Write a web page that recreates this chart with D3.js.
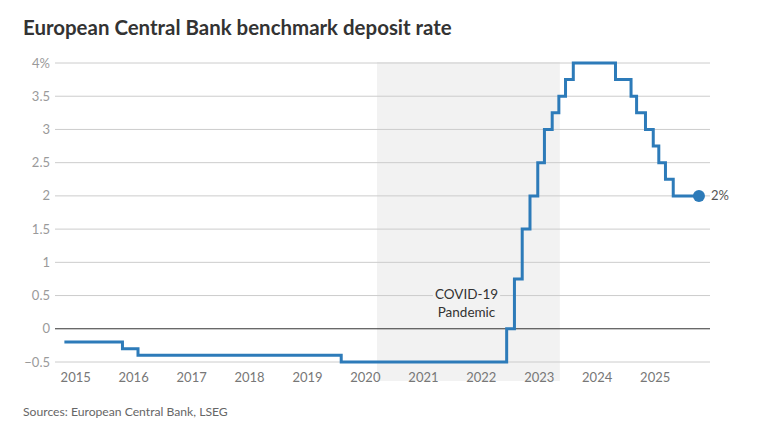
<!DOCTYPE html>
<html>
<head>
<meta charset="utf-8">
<script src="https://cdn.jsdelivr.net/npm/d3@7"></script>
<style>
  body { margin: 0; background: #fff; }
  svg text { font-family: Lato, "Noto Sans", sans-serif; }
</style>
</head>
<body>
<div id="chart"></div>
<script>
// ECB deposit rate decisions (date of change, new rate %)
const rateDates = ["2014-12-08", "2015-12-09", "2016-03-16", "2019-09-18", "2022-07-27",
    "2022-09-14", "2022-11-02", "2022-12-21", "2023-02-08", "2023-03-22", "2023-05-10",
    "2023-06-21", "2023-08-02", "2023-09-20", "2024-06-12", "2024-09-18", "2024-10-23",
    "2024-12-18", "2025-02-05", "2025-03-12", "2025-04-23", "2025-06-11", "2025-11-20"];
const rateValues = [-0.2, -0.3, -0.4, -0.5, 0, 0.75, 1.5, 2.0, 2.5, 3.0, 3.25,
    3.5, 3.75, 4.0, 3.75, 3.5, 3.25, 3.0, 2.75, 2.5, 2.25, 2.0, 2.0];

const yTicks = [-0.5, 0, 0.5, 1, 1.5, 2, 2.5, 3, 3.5, 4];
const yTickLabels = ["−0.5", "0", "0.5", "1", "1.5", "2", "2.5", "3", "3.5", "4%"];
const xYears = [2015, 2016, 2017, 2018, 2019, 2020, 2021, 2022, 2023, 2024, 2025];

const covidStart = "2020-05-01";
const covidEnd = "2023-06-27";

const width = 776, height = 435;
const parse = d3.timeParse("%Y-%m-%d");
const data = rateDates.map((d, i) => ({ date: parse(d), value: rateValues[i] }));

const svg = d3.select("#chart").append("svg")
    .attr("width", width)
    .attr("height", height);

const x = d3.scaleTime()
    .domain([new Date(2015, 0, 1), new Date(2026, 0, 1)])
    .range([68.2, 705.6]);
const y = d3.scaleLinear()
    .domain([-0.5, 4])
    .range([362, 63]);

const gridLeft = 55, gridRight = 710;

// Shade the pandemic period
svg.append("rect")
    .attr("x", x(parse(covidStart)))
    .attr("y", y(4) - 1)
    .attr("width", x(parse(covidEnd)) - x(parse(covidStart)))
    .attr("height", y(-0.5) + 20 - y(4))
    .attr("fill", "#f2f2f2");

// Gridlines
svg.selectAll(".grid")
    .data(yTicks)
    .enter().append("line")
    .attr("class", "grid")
    .attr("x1", gridLeft)
    .attr("x2", gridRight)
    .attr("y1", d => y(d))
    .attr("y2", d => y(d))
    .attr("stroke", d => d === 0 ? "#333" : "#cccccc")
    .attr("stroke-width", 1);

// Y labels
svg.selectAll(".ylab")
    .data(yTicks)
    .enter().append("text")
    .attr("class", "ylab")
    .attr("x", 50)
    .attr("y", d => y(d))
    .attr("dy", "0.35em")
    .attr("text-anchor", "end")
    .attr("fill", "#9a9a9a")
    .style("font-size", "13px")
    .text((d, i) => yTickLabels[i]);

// X labels
svg.selectAll(".xlab")
    .data(xYears)
    .enter().append("text")
    .attr("class", "xlab")
    .attr("x", d => x(new Date(d, 0, 1)) + 7.5)
    .attr("y", 382)
    .attr("text-anchor", "middle")
    .attr("fill", "#777")
    .style("font-size", "13px")
    .text(d => d);

// Annotation
const note = svg.append("g");
const noteBg = note.append("rect").attr("fill", "#f2f2f2");
const noteText = note.append("text")
    .attr("text-anchor", "middle")
    .attr("fill", "#333")
    .style("font-size", "13.5px");
noteText.append("tspan").attr("x", 466.5).attr("y", 299).text("COVID-19");
noteText.append("tspan").attr("x", 466.5).attr("y", 316.7).text("Pandemic");
const nb = noteText.node().getBBox();
noteBg.attr("x", nb.x - 2).attr("y", nb.y).attr("width", nb.width + 4).attr("height", nb.height);

// Rate line
const line = d3.line()
    .x(d => x(d.date))
    .y(d => y(d.value))
    .curve(d3.curveStepAfter);

svg.append("path")
    .datum(data)
    .attr("d", line)
    .attr("fill", "none")
    .attr("stroke", "#2d7bb9")
    .attr("stroke-width", 3);

const last = data[data.length - 1];
svg.append("circle")
    .attr("cx", x(last.date))
    .attr("cy", y(last.value))
    .attr("r", 6)
    .attr("fill", "#2d7bb9");

svg.append("text")
    .attr("x", x(last.date) + 12)
    .attr("y", y(last.value))
    .attr("dy", "0.35em")
    .attr("fill", "#555")
    .style("font-size", "13px")
    .text(last.value + "%");

// Title and source, fitted to the widths in the reference
function fit(sel, target) {
    const w = sel.node().getComputedTextLength();
    const fs = parseFloat(sel.style("font-size"));
    sel.style("font-size", (fs * target / w) + "px");
}

const title = svg.append("text")
    .attr("x", 23)
    .attr("y", 35)
    .attr("fill", "#333")
    .style("font-size", "20px")
    .style("font-weight", "bold")
    .text("European Central Bank benchmark deposit rate");
fit(title, 429);

const source = svg.append("text")
    .attr("x", 23)
    .attr("y", 415.7)
    .attr("fill", "#666")
    .style("font-size", "11.5px")
    .text("Sources: European Central Bank, LSEG");
fit(source, 205);
</script>
</body>
</html>
